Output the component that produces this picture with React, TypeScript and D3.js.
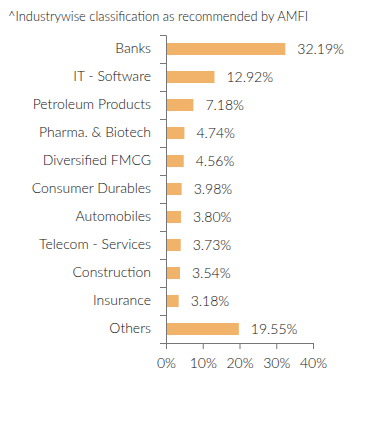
import * as d3 from 'd3';
import React, { useRef, useEffect } from 'react';

const categories = ['Banks', 'IT - Software', 'Petroleum Products', 'Pharma. & Biotech', 'Diversified FMCG',
  'Consumer Durables', 'Automobiles', 'Telecom - Services', 'Construction', 'Insurance', 'Others'];
const values = [32.19, 12.92, 7.18, 4.74, 4.56, 3.98, 3.80, 3.73, 3.54, 3.18, 19.55];
const xTicks = [0, 10, 20, 30, 40];

function Chart() {
  const ref = useRef<SVGSVGElement>(null);

  useEffect(() => {
    const svg = d3.select(ref.current);
    svg.selectAll('*').remove();
    const font = 'Lato, "Open Sans", sans-serif';
    // page has an 8px body margin, so everything sits 8px in
    const left = 158, top = 27, w = 147, h = 308;

    svg.append('text')
      .attr('x', 0).attr('y', 13)
      .attr('font-family', font).attr('font-size', 12.9).attr('font-weight', 300).attr('fill', '#111')
      .text('^Industrywise classification as recommended by AMFI');

    const x = d3.scaleLinear().domain([0, 40]).range([0, w]);
    const y = d3.scaleBand().domain(categories).range([0, h]).paddingInner(0.57).paddingOuter(0.285);
    const g = svg.append('g').attr('transform', `translate(${left},${top})`);

    const yAxis = g.append('g').call(d3.axisLeft(y).tickSizeInner(0).tickSizeOuter(6).tickPadding(15));
    yAxis.selectAll('.tick text').attr('font-family', font).attr('font-size', 14).attr('font-weight', 300).attr('fill', '#111');
    yAxis.select('.domain').attr('stroke', '#777');
    // separator ticks between bands
    const step = y.step();
    g.selectAll('.sep').data(d3.range(categories.length + 1)).enter().append('line')
      .attr('x1', -6).attr('x2', 0)
      .attr('y1', (d) => d * step + 0.5).attr('y2', (d) => d * step + 0.5)
      .attr('stroke', '#777');

    const xAxis = g.append('g').attr('transform', `translate(0,${h})`)
      .call(d3.axisBottom(x).tickValues(xTicks).tickFormat((d) => d + '%').tickSize(6).tickPadding(9));
    xAxis.selectAll('.tick text').attr('font-family', font).attr('font-size', 14).attr('font-weight', 300).attr('fill', '#111');
    xAxis.selectAll('line, path').attr('stroke', '#777');

    g.selectAll('.bar').data(categories).enter().append('rect')
      .attr('x', 1).attr('y', (d) => y(d)!)
      .attr('width', (d, i) => x(values[i]))
      .attr('height', y.bandwidth())
      .attr('fill', '#F1B36A');

    g.selectAll('.lbl').data(categories).enter().append('text')
      .attr('x', (d, i) => x(values[i]) + 13)
      .attr('y', (d) => y(d)! + y.bandwidth() / 2)
      .attr('dy', '0.35em')
      .attr('font-family', font).attr('font-size', 14).attr('font-weight', 300).attr('fill', '#111')
      .text((d, i) => values[i].toFixed(2) + '%');
  }, []);

  return <svg ref={ref} width={376} height={417} style={{ display: 'block' }} />;
}

export default function App() {
  return <Chart />;
}
